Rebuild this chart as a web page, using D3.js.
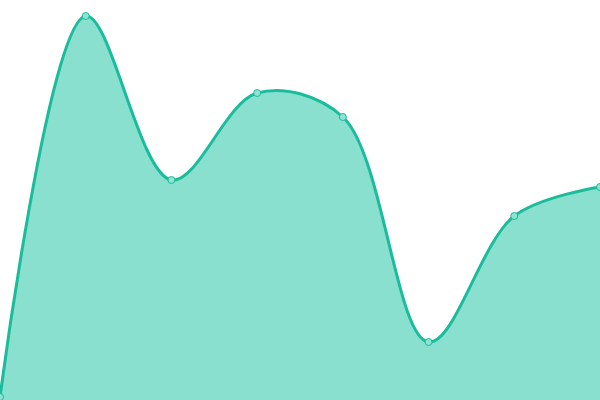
<!DOCTYPE html>
<html>
<head>
<meta charset="utf-8">
<script src="https://cdn.jsdelivr.net/npm/d3@7"></script>
<style>
	html, body { margin: 0; padding: 0; background: #fff; }
	svg { display: block; }
</style>
</head>
<body>
<svg id="chart"></svg>
<script>
'use strict'

var categories = ["A", "B", "C", "D", "E", "F", "G", "H"];
var values = [0.75, 96, 55, 76.75, 70.75, 14.5, 46, 53.25];

var WIDTH = 600,
	HEIGHT = 400;

var lineColor = "#1abc9c";
var areaColor = "#89e0cf";

var svg = d3.select("#chart")
	.attr("width", WIDTH)
	.attr("height", HEIGHT)

var x = d3.scalePoint()
	.domain(categories)
	.range([0, WIDTH])

var y = d3.scaleLinear()
	.domain([0, 100])
	.range([HEIGHT, 0])

var data = categories.map(function (c, i) {
	return { cat: c, val: values[i] };
});

var area = d3.area()
	.x(function (d) { return x(d.cat); })
	.y0(HEIGHT)
	.y1(function (d) { return y(d.val); })
	.curve(d3.curveCatmullRom)

var line = d3.line()
	.x(function (d) { return x(d.cat); })
	.y(function (d) { return y(d.val); })
	.curve(d3.curveCatmullRom)

svg.append("path")
	.datum(data)
	.attr("d", area)
	.style("fill", areaColor)

svg.append("path")
	.datum(data)
	.attr("d", line)
	.style("fill", "none")
	.style("stroke", lineColor)
	.style("stroke-width", 3)

svg.selectAll("circle.pt")
	.data(data)
	.enter()
	.append("circle")
	.attr("class", "pt")
	.attr("cx", function (d) { return x(d.cat); })
	.attr("cy", function (d) { return y(d.val); })
	.attr("r", 3.5)
	.style("fill", "#8fe3d2")
	.style("stroke", lineColor)
	.style("stroke-width", 1)
</script>
</body>
</html>
